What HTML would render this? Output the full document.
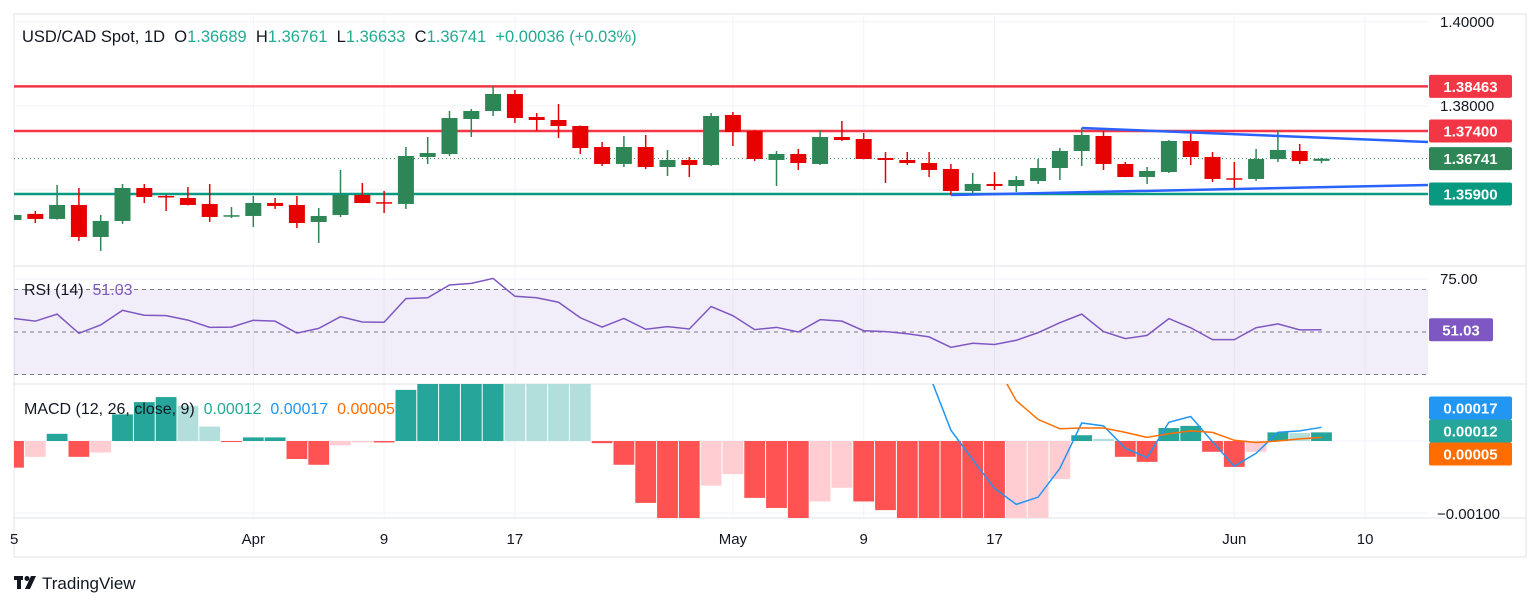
<!DOCTYPE html>
<html><head><meta charset="utf-8"><style>
html,body{margin:0;padding:0;background:#fff;}
svg{display:block;font-family:"Liberation Sans",sans-serif;}
.pre{white-space:pre;}
</style></head><body>
<svg id="chart" width="1536" height="608" viewBox="0 0 1536 608" xmlns="http://www.w3.org/2000/svg">
<defs>
<clipPath id="cMain"><rect x="14" y="14" width="1414" height="252"/></clipPath>
<clipPath id="cRsi"><rect x="14" y="267" width="1414" height="117"/></clipPath>
<clipPath id="cMacd"><rect x="14" y="384" width="1414" height="134"/></clipPath>
</defs>
<rect x="14" y="14" width="1512" height="543" fill="#fff" stroke="#e0e3eb" stroke-width="1"/>
<g id="grid"></g>
<line x1="14" y1="266" x2="1526" y2="266" stroke="#e0e3eb"/>
<line x1="14" y1="384" x2="1526" y2="384" stroke="#e0e3eb"/>
<line x1="14" y1="518" x2="1526" y2="518" stroke="#e0e3eb"/>
<g id="main" clip-path="url(#cMain)"></g>
<g id="rsi" clip-path="url(#cRsi)"></g>
<g id="macd" clip-path="url(#cMacd)"></g>
<g id="axis"></g>
<text class="pre" x="22" y="42" font-size="16.5" fill="#131722">USD/CAD Spot, 1D  O<tspan fill="#22ab94">1.36689</tspan>  H<tspan fill="#22ab94">1.36761</tspan>  L<tspan fill="#22ab94">1.36633</tspan>  C<tspan fill="#22ab94">1.36741</tspan>  <tspan fill="#22ab94">+0.00036 (+0.03%)</tspan></text>
<text class="pre" x="24" y="295" font-size="16" fill="#131722">RSI (14)  <tspan fill="#7e57c2">51.03</tspan></text>
<text class="pre" x="24" y="414" font-size="16" fill="#131722">MACD (12, 26, close, 9)  <tspan fill="#22ab94">0.00012</tspan>  <tspan fill="#2196f3">0.00017</tspan>  <tspan fill="#ff6d00">0.00005</tspan></text>
<g>
<rect x="14" y="576" width="9" height="4" fill="#131722"/>
<rect x="17" y="576" width="4" height="13" fill="#131722"/>
<circle cx="27" cy="578.5" r="2.5" fill="#131722"/>
<polygon points="31,576 36,576 30,589 25,589" fill="#131722"/>
<text x="42" y="589" font-size="17" fill="#131722">TradingView</text>
</g>
</svg>
<script>
const NS="http://www.w3.org/2000/svg";
// ---- data ----
const opens=[1.35282,1.35425,1.35306,1.35639,1.34877,1.35258,1.36043,1.35853,1.35805,1.35663,1.35380,1.35377,1.35686,1.35639,1.35234,1.35401,1.35877,1.35705,1.35663,1.36781,1.36853,1.37686,1.37876,1.38281,1.37733,1.37662,1.37519,1.37019,1.36615,1.37019,1.36543,1.36710,1.36591,1.37781,1.37400,1.36710,1.36853,1.36615,1.37257,1.37210,1.36757,1.36710,1.36638,1.36496,1.35972,1.36139,1.36091,1.36210,1.36519,1.36924,1.37281,1.36615,1.36305,1.36424,1.37162,1.36781,1.36275,1.36258,1.36734,1.36924,1.36689];
const highs=[1.35410,1.35496,1.36115,1.36043,1.35401,1.36139,1.36139,1.35877,1.36067,1.36139,1.35591,1.35853,1.35805,1.35853,1.35567,1.36472,1.36162,1.35972,1.37019,1.37257,1.37876,1.37924,1.38471,1.38376,1.37828,1.38043,1.37530,1.37138,1.37281,1.37305,1.36948,1.36781,1.37828,1.37852,1.37424,1.36924,1.36972,1.37424,1.37638,1.37352,1.36900,1.36900,1.36900,1.36615,1.36400,1.36424,1.36329,1.36734,1.36995,1.37471,1.37400,1.36662,1.36543,1.37186,1.37352,1.36900,1.36662,1.36972,1.37424,1.37091,1.36761];
const lows=[1.35270,1.35210,1.35290,1.34782,1.34544,1.35187,1.35686,1.35496,1.35630,1.35234,1.35329,1.35115,1.35544,1.35091,1.34734,1.35353,1.35680,1.35448,1.35544,1.36615,1.36805,1.37257,1.37757,1.37590,1.37400,1.37233,1.36853,1.36567,1.36543,1.36496,1.36329,1.36305,1.36567,1.37043,1.36686,1.36091,1.36472,1.36591,1.37162,1.36725,1.36162,1.36591,1.36305,1.35877,1.35924,1.35996,1.35948,1.36139,1.36234,1.36567,1.36472,1.36300,1.36139,1.36400,1.36591,1.36186,1.36020,1.36210,1.36662,1.36615,1.36633];
const closes=[1.35401,1.35306,1.35639,1.34877,1.35258,1.36043,1.35829,1.35829,1.35639,1.35353,1.35395,1.35686,1.35615,1.35210,1.35377,1.35877,1.35686,1.35692,1.36805,1.36876,1.37709,1.37876,1.38281,1.37709,1.37662,1.37519,1.36995,1.36615,1.37019,1.36543,1.36710,1.36591,1.37757,1.37376,1.36734,1.36853,1.36638,1.37257,1.37186,1.36734,1.36710,1.36638,1.36472,1.35972,1.36139,1.36091,1.36234,1.36519,1.36924,1.37305,1.36615,1.36305,1.36448,1.37162,1.36781,1.36258,1.36262,1.36734,1.36948,1.36686,1.36741];
const levelsRed=[1.38463,1.37400];
const levelGreen=[1.35900];
const upperTrend=[[49,1.37471],[64.9,1.37138]];
const lowerTrend=[[43,1.35877],[64.9,1.36115]];
const priceTicks=[1.40,1.38,1.36];
const priceTickLabels=["1.40000","1.38000",""];
const rsiValues=[56.4,55.1,58.4,49.4,53.3,60.2,57.9,57.7,55.6,52.2,52.3,55.5,55.1,49.5,51.7,57.2,54.7,54.6,65.7,66.1,72.1,72.9,75.2,66.8,66.1,64.0,56.7,52.3,56.4,51.3,52.5,51.4,62.0,57.7,51.1,52.2,50.0,55.8,55.1,50.6,50.2,49.2,47.7,42.8,44.7,44.1,46.1,49.7,54.4,58.4,50.2,46.9,48.4,56.3,52.0,46.4,46.4,52.0,53.8,51.0,51.03];
const histValues=[-0.00037,-0.00022,0.0001,-0.00022,-0.00016,0.00037,0.00054,0.00061,0.00049,0.0002,-0.00001,0.00005,0.00005,-0.00025,-0.00033,-0.00006,-0.00002,-0.00002,0.00071,0.00085,0.00095,0.00102,0.00108,0.00104,0.00098,0.00092,0.00086,-0.00003,-0.00033,-0.00086,-0.0011,-0.0012,-0.00062,-0.00046,-0.00079,-0.00093,-0.0011,-0.00084,-0.00065,-0.00084,-0.00096,-0.00112,-0.0012,-0.0013,-0.0014,-0.0015,-0.0013,-0.0011,-0.00053,0.00008,0.00003,-0.00022,-0.00029,0.00018,0.00021,-0.00015,-0.00036,-0.00015,0.00012,0.00011,0.00012];
const macdStart=41;
const macdValues=[0.0016,0.00093,0.00015,-0.00026,-0.00066,-0.00088,-0.00078,-0.00038,0.00025,0.00021,-0.0001,-0.00023,0.00026,0.00034,-0.00001,-0.00035,-0.00017,0.00012,0.00014,0.00019];
const signalStart=45;
const signalValues=[0.0011,0.00056,0.0003,0.00017,0.00018,0.00018,0.00012,0.00005,0.0001,0.00014,0.00012,0.00001,-0.00002,0.0,0.00003,0.00005];
const dateIdx=[0,11,17,23,33,39,45,56,62];
const dateLabels=["15","Apr","9","17","May","9","17","Jun","10"];
// ---- scales ----
const xOf=i=>13.5+i*21.8;
const yP=p=>131+(1.374-p)*4200;
const yR=v=>332-(v-50)*2.125;
const yM=v=>441-v*72000;
function mk(tag,attrs,parent){const e=document.createElementNS(NS,tag);for(const k in attrs)e.setAttribute(k,attrs[k]);parent.appendChild(e);return e;}
const gMain=document.getElementById('main'),gR=document.getElementById('rsi'),gM=document.getElementById('macd'),gA=document.getElementById('axis'),gG=document.getElementById('grid');
dateIdx.forEach((d,k)=>{
  const l=mk('line',{x1:xOf(d),x2:xOf(d),y1:14,y2:518,stroke:'#f0f3fa'},gG);
  
  
  const t=mk('text',{x:xOf(d),y:544,'font-size':15,fill:'#131722','text-anchor':k===0?'start':'middle'},gA);
  if(k===0){t.setAttribute('x',10);t.textContent=dateLabels[k].slice(1);}else t.textContent=dateLabels[k];
  
  
});
priceTicks.forEach((p,k)=>{
  const l=mk('line',{x1:14,x2:1428,y1:yP(p),y2:yP(p),stroke:'#f0f3fa'},gG);
  
  
  if(priceTickLabels[k]){const t=mk('text',{x:1440,y:yP(p)+5,'font-size':15,fill:'#131722'},gA);t.textContent=priceTickLabels[k];
  
  }
});
[yR(75),yM(0),yM(-0.001)].forEach(y=>{
  const l=mk('line',{x1:14,x2:1428,y1:y,y2:y,stroke:'#f0f3fa'},gG);
  
  
});
levelsRed.forEach(p=>{const l=mk('line',{x1:14,x2:1428,y1:yP(p),y2:yP(p),stroke:'#f23645','stroke-width':2.5},gMain);
  
  });
levelGreen.forEach(p=>{const l=mk('line',{x1:14,x2:1428,y1:yP(p),y2:yP(p),stroke:'#089981','stroke-width':2.5},gMain);
  
  });
const cp=mk('line',{x1:14,x2:1428,y1:yP(closes[closes.length-1]),y2:yP(closes[closes.length-1]),stroke:'#2e8b57','stroke-dasharray':'1 3'},gMain);


for(let i=0;i<opens.length;i++){
  const up=closes[i]>=opens[i];const col=up?'#2e8555':'#e60000';
  const g=mk('g',{},gMain);
  
  
  const x=xOf(i);
  mk('line',{x1:x,x2:x,y1:yP(highs[i]),y2:yP(lows[i]),stroke:col,'stroke-width':1.5},g);
  const t=Math.min(yP(opens[i]),yP(closes[i])),b=Math.max(yP(opens[i]),yP(closes[i]));
  mk('rect',{x:x-8,y:t,width:16,height:Math.max(b-t,1.5),fill:col},g);
}
[upperTrend,lowerTrend].forEach((tl,k)=>{
  const l=mk('line',{x1:xOf(tl[0][0]),y1:yP(tl[0][1]),x2:xOf(tl[1][0]),y2:yP(tl[1][1]),stroke:'#2962ff','stroke-width':2.5},gMain);
  
  
});
const band=mk('rect',{x:14,y:yR(70),width:1414,height:yR(30)-yR(70),fill:'rgba(126,87,194,0.1)'},gR);


[70,50,30].forEach(v=>{const l=mk('line',{x1:14,x2:1428,y1:yR(v),y2:yR(v),stroke:'#787b86','stroke-dasharray':'4 4'},gR);
  
  });
const rl=mk('polyline',{points:rsiValues.map((v,i)=>xOf(i)+','+yR(v)).join(' '),fill:'none',stroke:'#7e57c2','stroke-width':1.5},gR);


histValues.forEach((v,i)=>{
  const prev=i>0?histValues[i-1]:v;
  let col;
  if(v>=0)col=v>=prev?'#26a69a':'#b2dfdb';else col=v<=prev?'#ff5252':'#ffcdd2';
  const y0=yM(0),y1=yM(v);
  const r=mk('rect',{x:xOf(i)-10.4,y:Math.min(y0,y1),width:20.8,height:Math.max(Math.abs(y1-y0),1),fill:col},gM);
  
  
});
const ml=mk('polyline',{points:macdValues.map((v,k)=>xOf(k+macdStart)+','+yM(v)).join(' '),fill:'none',stroke:'#2196f3','stroke-width':1.5},gM);


const sl=mk('polyline',{points:signalValues.map((v,k)=>xOf(k+signalStart)+','+yM(v)).join(' '),fill:'none',stroke:'#ff6d00','stroke-width':1.5},gM);


function box(y,txt,col,name,w){
  const g=mk('g',{},gA);
  
  
  mk('rect',{x:1429,y:y-11.5,width:w||83,height:23,rx:2,fill:col},g);
  const t=mk('text',{x:1429+(w||83)/2,y:y+5.5,'font-size':15,'font-weight':'bold',fill:'#fff','text-anchor':'middle'},g);
  t.textContent=txt;
}
box(yP(levelsRed[0]),'1.38463','#f23645','resistance-label-1');
box(yP(levelsRed[1]),'1.37400','#f23645','resistance-label-2');
box(yP(closes[closes.length-1]),'1.36741','#2e8555','current-price-label');
box(yP(levelGreen[0]),'1.35900','#089981','support-label');
const t75=mk('text',{x:1440,y:yR(75)+5,'font-size':15,fill:'#131722'},gA);t75.textContent='75.00';


box(yR(51.03),'51.03','#7e57c2','rsi-value-label',64);
box(408,'0.00017','#2196f3','macd-value-label');
box(431,'0.00012','#26a69a','histogram-value-label');
box(454,'0.00005','#ff6d00','signal-value-label');
const tm=mk('text',{x:1437,y:519,'font-size':15,fill:'#131722'},gA);tm.textContent='\u22120.00100';


</script>
</body></html>
